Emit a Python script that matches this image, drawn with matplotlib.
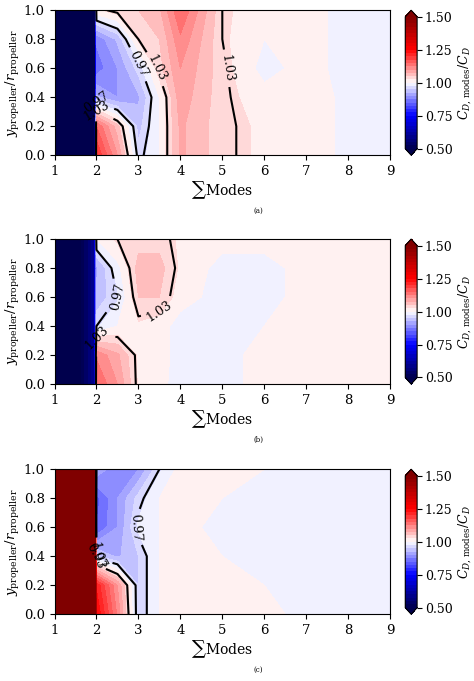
import numpy as np
import matplotlib
matplotlib.use("Agg")
import matplotlib.pyplot as plt

plt.rcParams['font.family'] = 'DejaVu Serif'
plt.rcParams['mathtext.fontset'] = 'dejavuserif'

modes = [1, 1.95, 2, 2.5, 3, 3.5, 4, 5, 6, 7, 8, 9]
y_pos = [0.0, 0.2, 0.4, 0.6, 0.8, 1.0]

ratio_a = [
    [0.3, 0.3, 1.20, 1.10, 0.96, 1.00, 1.08, 1.035, 1.02, 1.02, 0.99, 0.99],
    [0.3, 0.3, 1.15, 1.06, 0.94, 1.00, 1.08, 1.035, 1.02, 1.02, 0.99, 0.99],
    [0.3, 0.3, 0.93, 0.90, 0.92, 1.00, 1.09, 1.035, 1.01, 1.02, 0.99, 0.99],
    [0.3, 0.3, 0.86, 0.90, 0.96, 1.04, 1.10, 1.035, 0.99, 1.01, 0.99, 0.99],
    [0.3, 0.3, 0.88, 0.93, 1.03, 1.05, 1.12, 1.03, 1.00, 1.01, 0.99, 0.99],
    [0.3, 0.3, 1.02, 1.04, 1.05, 1.07, 1.15, 1.03, 1.01, 1.01, 0.99, 0.99],
]
ratio_b = [
    [0.3, 0.6, 1.15, 1.10, 1.02, 1.01, 0.985, 0.99, 1.01, 1.01, 1.01, 1.01],
    [0.3, 0.6, 1.12, 1.08, 1.02, 1.01, 0.99, 0.99, 1.01, 1.01, 1.01, 1.01],
    [0.3, 0.6, 0.97, 1.00, 1.02, 1.01, 0.99, 0.99, 1.00, 1.01, 1.01, 1.01],
    [0.3, 0.6, 0.93, 0.97, 1.05, 1.05, 1.01, 0.99, 0.99, 1.01, 1.01, 1.01],
    [0.3, 0.6, 0.92, 0.99, 1.06, 1.06, 1.02, 0.99, 0.99, 1.01, 1.01, 1.01],
    [0.3, 0.6, 1.00, 1.03, 1.04, 1.04, 1.02, 1.01, 1.01, 1.01, 1.01, 1.01],
]
ratio_c = [
    [3.0, 2.0, 1.25, 1.12, 0.95, 1.00, 1.01, 1.01, 1.01, 0.99, 0.99, 0.99],
    [3.0, 2.0, 1.22, 1.10, 0.95, 1.00, 1.01, 1.01, 1.00, 0.99, 0.99, 0.99],
    [3.0, 2.0, 0.95, 0.92, 0.95, 1.00, 1.01, 1.00, 0.99, 0.99, 1.00, 0.99],
    [3.0, 2.0, 0.85, 0.90, 0.98, 1.00, 1.01, 0.99, 0.99, 0.99, 1.00, 1.00],
    [3.0, 2.0, 0.84, 0.90, 0.96, 1.00, 1.01, 1.00, 0.99, 1.00, 1.00, 1.00],
    [3.0, 2.0, 0.92, 0.88, 0.90, 0.97, 1.01, 1.01, 1.00, 1.00, 1.00, 1.00],
]
captions = ['(a)', '(b)', '(c)']
cbar_ticks = [0.50, 0.75, 1.00, 1.25, 1.50]

fig = plt.figure(figsize=(4.74, 6.81), dpi=100)
X, Y = np.meshgrid(modes, y_pos)
levels = np.linspace(0.5, 1.5, 41)
bottoms = [0.772, 0.436, 0.098]
for data, cap, b in zip([ratio_a, ratio_b, ratio_c], captions, bottoms):
    ax = fig.add_axes([0.115, b, 0.708, 0.213])
    Z = np.array(data)
    cf = ax.contourf(X, Y, Z, levels=levels, cmap='seismic', extend='both')
    cs = ax.contour(X, Y, Z, levels=[0.97, 1.03], colors='black', linewidths=1.5)
    ax.clabel(cs, fmt='%.2f', fontsize=9)
    ax.set_xlim(1, 9)
    ax.set_ylim(0, 1)
    ax.set_xticks(range(1, 10))
    ax.set_yticks([0, 0.2, 0.4, 0.6, 0.8, 1.0])
    ax.tick_params(labelsize=9.5)
    ax.set_xlabel(r'$\sum$Modes', fontsize=10, labelpad=1)
    ax.set_ylabel(r'$y_\mathrm{propeller}/r_\mathrm{propeller}$', fontsize=9.5, labelpad=1)
    cax = fig.add_axes([0.855, b, 0.025, 0.213])
    cb = fig.colorbar(cf, cax=cax, ticks=cbar_ticks)
    cb.ax.tick_params(labelsize=9, pad=2)
    cb.set_label(r'$C_{D,\,\mathrm{modes}}/C_D$', fontsize=9, labelpad=3)
    fig.text(0.545, b - 0.085, cap, ha='center', fontsize=5)

fig.savefig('out.png', dpi=100)
